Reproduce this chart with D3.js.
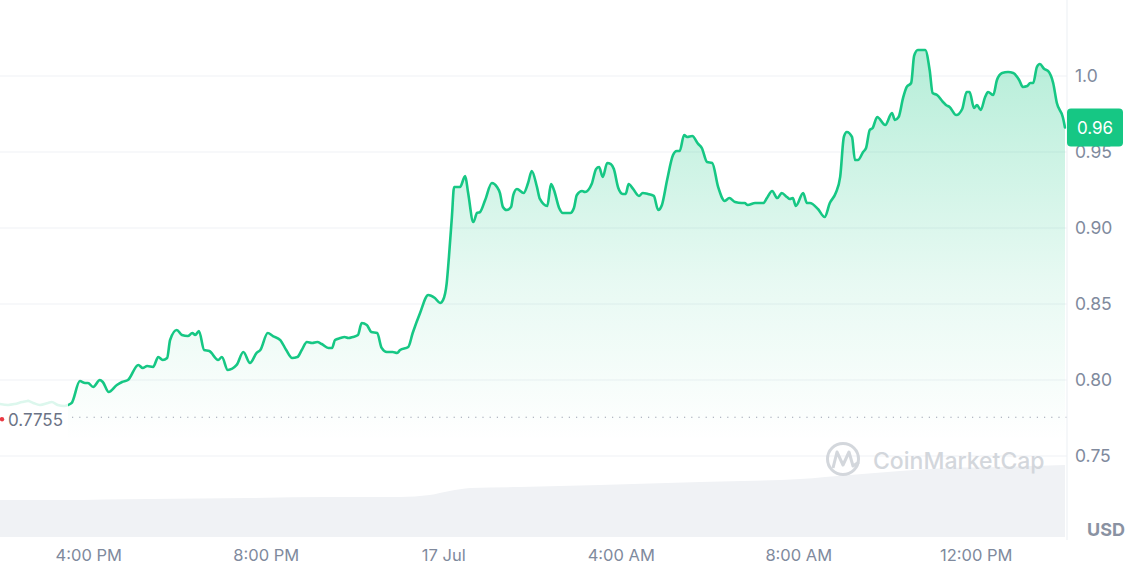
<!DOCTYPE html>
<html><head><meta charset="utf-8">
<script src="https://cdn.jsdelivr.net/npm/d3@7"></script>
<style>
html,body{margin:0;padding:0;background:#fff;overflow:hidden;}
svg{display:block;font-family:Inter,"Noto Sans",sans-serif;}
</style></head><body>
<svg id="chart" width="1140" height="565"></svg>
<script>
// ---- data (16–17 Jul, 24h) ----
const times = [
"14:00","14:11","14:20","14:30","14:38","14:45","14:54","15:05","15:10","15:18","15:27","15:32","15:37","15:48","15:55","15:59",
"16:06","16:15","16:19","16:27","16:38","16:45","16:53","17:07","17:13","17:19","17:27","17:34","17:40","17:46","17:50","17:59",
"18:06","18:14","18:20","18:24","18:29","18:36","18:43","18:55","19:00","19:08","19:20","19:29","19:38","19:47","19:52","20:02",
"20:09","20:19","20:27","20:35","20:42","20:48","20:55","21:02","21:09","21:15","21:24","21:29","21:33","21:40","21:46","21:51",
"21:57","22:04","22:09","22:16","22:22","22:30","22:36","22:43","22:51","22:57","23:01","23:12","23:18","23:28","23:39","23:48",
"23:55","23:59","00:04","00:07","00:11","00:14","00:22","00:29","00:33","00:40","00:45","00:49","00:56","01:05","01:12","01:16",
"01:20","01:25","01:31","01:34","01:39","01:48","01:54","01:59","02:06","02:10","02:20","02:25","02:29","02:36","02:41","02:51",
"02:56","03:00","03:07","03:11","03:20","03:26","03:30","03:35","03:41","03:46","03:50","03:56","04:02","04:06","04:10","04:16",
"04:24","04:29","04:36","04:44","04:50","04:55","05:02","05:10","05:15","05:19","05:25","05:29","05:36","05:44","05:49","05:56",
"06:03","06:11","06:20","06:26","06:34","06:43","06:47","06:51","07:01","07:12","07:17","07:24","07:31","07:37","07:44","07:48",
"07:52","07:56","08:06","08:11","08:15","08:26","08:35","08:42","08:50","08:56","09:01","09:05","09:12","09:16","09:20","09:27",
"09:31","09:36","09:40","09:46","09:57","10:06","10:10","10:15","10:21","10:26","10:32","10:36","10:41","10:51","10:57","11:01",
"11:07","11:15","11:19","11:24","11:33","11:41","11:47","11:51","11:57","12:01","12:06","12:12","12:16","12:23","12:28","12:35",
"12:43","12:50","12:58","13:03","13:09","13:13","13:17","13:22","13:26","13:32","13:37","13:44","13:49","13:57","14:00"];
const prices = [
0.7842,0.7836,0.7842,0.7855,0.7862,0.7849,0.7836,0.7849,0.7855,0.7836,0.7829,0.7836,0.7849,0.7993,0.7980,0.7980,
0.7954,0.8000,0.7987,0.7921,0.7967,0.7987,0.8000,0.8099,0.8079,0.8092,0.8086,0.8151,0.8132,0.8145,0.8263,0.8329,
0.8296,0.8289,0.8309,0.8296,0.8322,0.8197,0.8191,0.8132,0.8151,0.8066,0.8099,0.8184,0.8112,0.8178,0.8197,0.8309,
0.8289,0.8263,0.8197,0.8145,0.8151,0.8197,0.8250,0.8243,0.8250,0.8237,0.8211,0.8211,0.8263,0.8276,0.8283,0.8276,
0.8283,0.8296,0.8375,0.8362,0.8316,0.8309,0.8211,0.8184,0.8184,0.8178,0.8197,0.8217,0.8309,0.8441,0.8559,0.8539,
0.8507,0.8526,0.8638,0.8809,0.9072,0.9270,0.9270,0.9342,0.9230,0.9039,0.9099,0.9105,0.9184,0.9296,0.9270,0.9230,
0.9138,0.9118,0.9138,0.9217,0.9257,0.9230,0.9296,0.9375,0.9270,0.9191,0.9145,0.9289,0.9250,0.9132,0.9099,0.9099,
0.9132,0.9217,0.9243,0.9237,0.9289,0.9388,0.9401,0.9336,0.9428,0.9421,0.9388,0.9263,0.9224,0.9224,0.9289,0.9257,
0.9211,0.9230,0.9224,0.9211,0.9118,0.9151,0.9316,0.9480,0.9507,0.9507,0.9612,0.9599,0.9605,0.9553,0.9526,0.9434,
0.9428,0.9270,0.9178,0.9197,0.9171,0.9164,0.9164,0.9151,0.9164,0.9164,0.9197,0.9243,0.9197,0.9230,0.9204,0.9191,
0.9197,0.9145,0.9230,0.9164,0.9164,0.9125,0.9072,0.9164,0.9230,0.9336,0.9599,0.9632,0.9599,0.9447,0.9447,0.9500,
0.9526,0.9645,0.9658,0.9730,0.9678,0.9757,0.9711,0.9730,0.9855,0.9928,0.9954,1.0132,1.0171,1.0171,1.0039,0.9888,
0.9875,0.9829,0.9809,0.9796,0.9743,0.9783,0.9895,0.9895,0.9789,0.9809,0.9776,0.9862,0.9895,0.9875,0.9974,1.0020,
1.0026,1.0020,0.9974,0.9928,0.9934,0.9954,0.9954,1.0059,1.0079,1.0046,1.0033,0.9954,0.9822,0.9730,0.9661];

const volTimes = ["14:00","15:21","17:23","19:38","21:26","23:01","23:41","00:08","00:36","01:43","03:31","05:47","08:02","09:09","10:17","11:24","12:32","14:00"];
const volumes  = [37,37,38,39,40,40,42,46,49,50,52,55,58,62,66,69,70,72];

const yTickValues = [0.75,0.80,0.85,0.90,0.95,1.0];
const yTickLabels = ["0.75","0.80","0.85","0.90","0.95","1.0"];
const xTickTimes  = ["16:00","20:00","00:00","04:00","08:00","12:00"];
const xTickLabels = ["4:00 PM","8:00 PM","17 Jul","4:00 AM","8:00 AM","12:00 PM"];
const refPrice = 0.7755;
const refLabel = "0.7755";
const currency = "USD";
const startDay = 16;

// ---- helpers ----
function parseSeq(arr){
  let day = startDay, prev = -1;
  return arr.map(s=>{
    const [h,m] = s.split(":").map(Number);
    const mins = h*60+m;
    if (mins < prev) day++;
    prev = mins;
    return new Date(2024,6,day,h,m);
  });
}
const tDates = parseSeq(times);
const vDates = parseSeq(volTimes);
const xtDates = parseSeq(xTickTimes);
const data = tDates.map((d,i)=>({t:d,v:prices[i]}));
const vdata = vDates.map((d,i)=>({t:d,v:volumes[i]}));

const GREEN = "#16c784", GRID = "#eff2f5", LABEL = "#808a9d";
const plotRight = 1067;

const x = d3.scaleTime().domain([tDates[0], tDates[tDates.length-1]]).range([0,1065]);
const y = d3.scaleLinear().domain([0.75,1.0]).range([456,76]);
const yv = d3.scaleLinear().domain([0,d3.max(volumes)]).range([537,465]);

const svg = d3.select("#chart");
const defs = svg.append("defs");
const grad = defs.append("linearGradient").attr("id","ag")
  .attr("gradientUnits","userSpaceOnUse").attr("x1",0).attr("x2",0).attr("y1",y(1.02)).attr("y2",y(0.76));
grad.append("stop").attr("offset",0).attr("stop-color",GREEN).attr("stop-opacity",0.32);
grad.append("stop").attr("offset",0.6).attr("stop-color",GREEN).attr("stop-opacity",0.1);
grad.append("stop").attr("offset",1).attr("stop-color",GREEN).attr("stop-opacity",0);

// gridlines
svg.append("g").selectAll("line").data(yTickValues).join("line")
  .attr("x1",0).attr("x2",plotRight).attr("y1",d=>y(d)).attr("y2",d=>y(d))
  .attr("stroke",GRID).attr("stroke-width",1.2);

// volume
svg.append("path").datum(vdata)
  .attr("d", d3.area().x(d=>x(d.t)).y0(yv(0)).y1(d=>yv(d.v)).curve(d3.curveMonotoneX))
  .attr("fill","#f0f2f5");

// price area + line
const curve = d3.curveMonotoneX;
svg.append("path").datum(data)
  .attr("d", d3.area().x(d=>x(d.t)).y0(y(0.75)).y1(d=>y(d.v)).curve(curve))
  .attr("fill","url(#ag)");
svg.append("path").datum(data)
  .attr("d", d3.line().x(d=>x(d.t)).y(d=>y(d.v)).curve(curve))
  .attr("fill","none").attr("stroke",GREEN).attr("stroke-width",2.6)
  .attr("stroke-linejoin","round").attr("stroke-linecap","round");

// reference line
svg.append("line").attr("x1",72).attr("x2",plotRight).attr("y1",y(refPrice)).attr("y2",y(refPrice))
  .attr("stroke","#9aa1b1").attr("stroke-width",1.2).attr("stroke-dasharray","1.2 6");
svg.append("rect").attr("x",0).attr("y",y(refPrice)-18).attr("width",68).attr("height",40)
  .attr("fill","#fff").attr("opacity",0.85);
svg.append("circle").attr("cx",2).attr("cy",y(refPrice)+2).attr("r",2.2).attr("fill","#ea3943");
svg.append("text").attr("x",8).attr("y",y(refPrice)+3).attr("dy","0.35em")
  .attr("font-size",17).attr("fill","#6b7385").text(refLabel);

// watermark
const wm = svg.append("g").attr("opacity",0.9);
wm.append("circle").attr("cx",843).attr("cy",459).attr("r",15.5).attr("fill","none")
  .attr("stroke","#cfd3d9").attr("stroke-width",3);
wm.append("path").attr("d","M833,468 L837,452 L843,465 L849,452 L853,466 L859,462")
  .attr("fill","none").attr("stroke","#cfd3d9").attr("stroke-width",3).attr("stroke-linejoin","round");
wm.append("text").attr("x",873).attr("y",469).attr("font-size",23).attr("font-weight",500)
  .attr("fill","#cfd3d9").text("CoinMarketCap");

// right border
svg.append("line").attr("x1",plotRight).attr("x2",plotRight).attr("y1",0).attr("y2",540)
  .attr("stroke",GRID).attr("stroke-width",1.2);

// y labels
svg.append("g").selectAll("text").data(yTickValues).join("text")
  .attr("x",1075).attr("y",d=>y(d)).attr("dy","0.35em").attr("font-size",17.5).attr("fill",LABEL)
  .text((d,i)=>yTickLabels[i]);

// x labels
svg.append("g").selectAll("text").data(xtDates).join("text")
  .attr("x",d=>x(d)).attr("y",561).attr("text-anchor","middle").attr("font-size",16.5).attr("fill",LABEL)
  .text((d,i)=>xTickLabels[i]);

// currency
svg.append("text").attr("x",1106).attr("y",536).attr("text-anchor","middle").attr("font-size",18)
  .attr("font-weight",700).attr("fill","#8a92a2").text(currency);

// current price badge
const last = prices[prices.length-1];
const by = y(last);
svg.append("rect").attr("x",1067).attr("y",by-19).attr("width",56).attr("height",38).attr("rx",4).attr("fill",GREEN);
svg.append("text").attr("x",1095).attr("y",by).attr("dy","0.36em").attr("text-anchor","middle")
  .attr("font-size",17).attr("fill","#fff").text((Math.floor(last*100)/100).toFixed(2));
</script>
</body></html>
